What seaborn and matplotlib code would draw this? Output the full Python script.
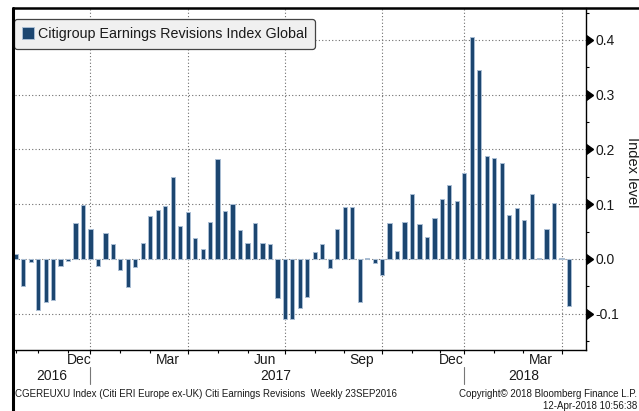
import numpy as np
import pandas as pd
import matplotlib
matplotlib.use("Agg")
import matplotlib.pyplot as plt
import matplotlib.transforms as mtransforms
from matplotlib.lines import Line2D
import seaborn as sns

# ---------------- data ----------------
values = [
    0.010, -0.049, -0.005, -0.094, -0.079, -0.075, -0.013, -0.003, 0.066, 0.099,
    0.054, -0.012, 0.048, 0.027, -0.021, -0.051, -0.015, 0.029, 0.079, 0.089,
    0.096, 0.149, 0.060, 0.085, 0.038, 0.018, 0.068, 0.182, 0.087, 0.100,
    0.053, 0.029, 0.066, 0.029, 0.027, -0.071, -0.110, -0.110, -0.089, -0.069,
    0.013, 0.027, -0.016, 0.054, 0.095, 0.095, -0.079, 0.001, -0.007, -0.030,
    0.066, 0.014, 0.068, 0.118, 0.064, 0.041, 0.074, 0.110, 0.136, 0.106,
    0.157, 0.406, 0.345, 0.188, 0.184, 0.176, 0.081, 0.093, 0.071, 0.118,
    0.002, 0.054, 0.102, 0.002, -0.085,
]
weeks = list(range(1, len(values) + 1))
series_label = "Citigroup Earnings Revisions Index Global"

y_ticks = [-0.1, 0.0, 0.1, 0.2, 0.3, 0.4]
y_tick_labels = ["-0.1", "0.0", "0.1", "0.2", "0.3", "0.4"]
y_minor_ticks = [-0.15, -0.05, 0.05, 0.15, 0.25, 0.35, 0.45]

quarter_idx = [10, 23, 36, 49, 60, 73]
month_tick_idx = [0, 2.94, 7.0, 13.95, 18.0, 27.1, 31.1, 40.0, 43.9, 52.96, 56.8, 64.0, 67.8]
month_labels = ["Dec", "Mar", "Jun", "Sep", "Dec", "Mar"]
month_label_pos = [8.5, 20.4, 33.3, 46.3, 58.3, 70.3]
year_labels = ["2016", "2017", "2018"]
year_label_pos = [4.8, 34.8, 68.0]
year_sep_idx = [10, 60]

footer_left = "CGEREUXU Index (Citi ERI Europe ex-UK) Citi Earnings Revisions  Weekly 23SEP2016"
footer_right1 = "Copyright\u00a9 2018 Bloomberg Finance L.P."
footer_right2 = "12-Apr-2018 10:56:38"
axis_title = "Index level"

# ---------------- style ----------------
sns.set_theme(style="white")
plt.rcParams["font.family"] = ["Liberation Sans", "DejaVu Sans"]

W, H = 639, 411
fig = plt.figure(figsize=(W / 100, H / 100), dpi=100)
fig.patch.set_facecolor("white")
ax = fig.add_axes([15 / W, 61 / H, (585.7 - 15) / W, (350 - 8) / H])
ax.set_facecolor("white")

df = pd.DataFrame({"week": weeks, "value": values})
bar_color = "#1c4670"
sns.barplot(data=df, x="week", y="value", color=bar_color, saturation=1,
            width=0.56, edgecolor="#a9bdd3", linewidth=0.7,
            label=series_label, ax=ax, zorder=3)

ax.set_xlim(-0.094, 76.23)
ax.set_ylim(-0.1662, 0.4584)
ax.set_xlabel("")
ax.set_ylabel("")

# y axis on right
ax.yaxis.tick_right()
ax.set_yticks(y_ticks)
ax.set_yticklabels(y_tick_labels)
ax.set_yticks(y_minor_ticks, minor=True)
ax.tick_params(axis="y", which="major", length=0, pad=6.7, labelsize=10,
               labelcolor="#1a1a1a")
ax.tick_params(axis="y", which="minor", length=2.2, width=0.8, color="black",
               direction="out", right=True, left=False)

# x axis ticks
ax.set_xticks(quarter_idx)
ax.set_xticklabels([])
ax.set_xticks(month_tick_idx, minor=True)
ax.tick_params(axis="x", which="major", length=3, width=0.8, color="black",
               direction="out", bottom=True)
ax.tick_params(axis="x", which="minor", length=2, width=0.8, color="black",
               direction="out", bottom=True)

ax.set_axisbelow(True)
ax.grid(True, which="major", axis="both", linestyle=(0, (1, 2)),
        color="#6e6e6e", linewidth=0.8)

for s in ["left", "top"]:
    ax.spines[s].set_visible(False)
for s in ["right", "bottom"]:
    ax.spines[s].set_visible(True)
    ax.spines[s].set_color("black")
    ax.spines[s].set_linewidth(1.0)

# triangle markers at major y ticks
tr_y = mtransforms.blended_transform_factory(ax.transAxes, ax.transData)
ax.plot(np.ones(len(y_ticks)), y_ticks, transform=tr_y, marker=9, ms=7,
        color="black", ls="none", clip_on=False, zorder=5)

# month / year labels
tr_x = mtransforms.blended_transform_factory(ax.transData, fig.transFigure)
for lab, pos in zip(month_labels, month_label_pos):
    ax.text(pos, 1 - 360 / H, lab, transform=tr_x, ha="center", va="center",
            fontsize=10, color="#1a1a1a")
for lab, pos in zip(year_labels, year_label_pos):
    ax.text(pos, 1 - 376 / H, lab, transform=tr_x, ha="center", va="center",
            fontsize=10, color="#1a1a1a")
for pos in year_sep_idx:
    ax.add_artist(Line2D([pos, pos], [1 - 366.7 / H, 1 - 384 / H],
                         transform=tr_x, color="#777777", lw=0.8, clip_on=False))

# legend
leg = ax.legend(loc="upper left", bbox_to_anchor=(14 / W, 1 - 19 / H),
                bbox_transform=fig.transFigure, borderaxespad=0, fancybox=True,
                framealpha=1, facecolor="#f0f0f0", edgecolor="#444444",
                fontsize=10.3, handlelength=0.85, handleheight=0.85,
                handletextpad=0.25, borderpad=0.55)
leg.get_frame().set_linewidth(0.9)
for t in leg.get_texts():
    t.set_color("#1a1a1a")

# axis title on right
fig.text(632 / W, 1 - 172 / H, axis_title, rotation=270, ha="center",
         va="center", fontsize=10.5, color="#1a1a1a")

# footers
fig.text(15 / W, 1 - 393.5 / H, footer_left, ha="left", va="center",
         fontsize=7, color="#1a1a1a")
fig.text(637 / W, 1 - 393.5 / H, footer_right1, ha="right", va="center",
         fontsize=7, color="#1a1a1a")
fig.text(637 / W, 1 - 405.5 / H, footer_right2, ha="right", va="center",
         fontsize=7, color="#1a1a1a")

# chart frame lines
fig.add_artist(Line2D([12.5 / W, 12.5 / W], [0, 1 - 8 / H], color="black",
                      lw=2.2, transform=fig.transFigure))
fig.add_artist(Line2D([12.5 / W, 1], [1 - 8 / H, 1 - 8 / H], color="black",
                      lw=1.8, transform=fig.transFigure))

fig.savefig("out.png", dpi=100)
